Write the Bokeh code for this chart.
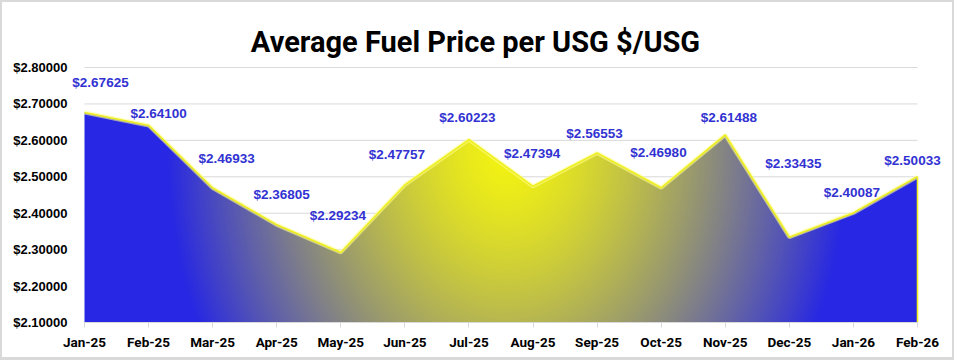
import numpy as np
from bokeh.plotting import figure
from bokeh.models import ColumnDataSource, Range1d, FixedTicker, NumeralTickFormatter, LabelSet, Label
from bokeh.core.properties import value
from bokeh.embed import file_html
from bokeh.resources import INLINE

# ---- data ----
months = ["Jan-25", "Feb-25", "Mar-25", "Apr-25", "May-25", "Jun-25", "Jul-25",
          "Aug-25", "Sep-25", "Oct-25", "Nov-25", "Dec-25", "Jan-26", "Feb-26"]
prices = [2.67625, 2.64100, 2.46933, 2.36805, 2.29234, 2.47757, 2.60223,
          2.47394, 2.56553, 2.46980, 2.61488, 2.33435, 2.40087, 2.50033]
y_ticks = [2.1, 2.2, 2.3, 2.4, 2.5, 2.6, 2.7, 2.8]
title_text = "Average Fuel Price per USG $/USG"

# label placement (pixels right / pixels up) as in the original chart
label_dx = [16, 10, 14, 5, -3, -8, -1.5, -1, -2.6, -2.7, 3.7, 4, -1.5, -5]
label_up = [29.6, 12.4, 29.5, 30.4, 37.4, 30.5, 22, 32.8, 19.4, 35.3, 17.4, 74, 20, 15.7]

x_idx = list(range(len(months)))
labels = ["$%.5f" % v for v in prices]

TITLE_FONT = "Roboto"
SANS = "Liberation Sans"

x0, x1 = x_idx[0], x_idx[-1]
y0, y1 = y_ticks[0], y_ticks[-1]

# plot area of the data: 833 x 255 px; the frame is enlarged so labels/title are not clipped
AREA_W, AREA_H = 833, 255
ppu_x = AREA_W / (x1 - x0)
ppu_y = AREA_H / (y1 - y0)
PAD_L, PAD_R, PAD_T = 14, 28, 57

p = figure(frame_width=AREA_W + PAD_L + PAD_R, frame_height=AREA_H + PAD_T,
           output_backend="svg", toolbar_location=None, title=None,
           x_range=Range1d(x0 - PAD_L / ppu_x, x1 + PAD_R / ppu_x),
           y_range=Range1d(y0, y1 + PAD_T / ppu_y),
           min_border_left=68, min_border_right=7, min_border_top=8, min_border_bottom=35)
p.styles = {"margin": "0px", "box-sizing": "content-box",
            "border-top": "2px solid #d9d9d9", "border-left": "2px solid #d9d9d9",
            "border-right": "2px solid #d9d9d9", "border-bottom": "3px solid #d9d9d9"}

# ---- horizontal grid lines (only across the data area) ----
p.segment(x0=[x0] * len(y_ticks), y0=y_ticks, x1=[x1] * len(y_ticks), y1=y_ticks,
          line_color="#d9d9d9", line_width=1)

# ---- gradient fill under the curve (radial: yellow centre -> blue edge) ----
W, H = AREA_W, AREA_H
xs = x0 + (np.arange(W) + 0.5) / ppu_x
ys_b = y0 + np.arange(H) / ppu_y
X, Y = np.meshgrid(xs, ys_b + 0.5 / ppu_y)
cx, cy = 6.6, 2.572
t = np.sqrt(((X - cx) * ppu_x / 340.0) ** 2 + ((Y - cy) * ppu_y / 420.0) ** 2)
t = np.clip(t, 0, 1) ** 1.35
yellow = np.array([244, 244, 18])
blue = np.array([40, 40, 228])
curve = np.interp(xs, x_idx, prices)
cov = np.clip((curve[None, :] - ys_b[:, None]) * ppu_y, 0, 1)
img = np.zeros((H, W), dtype=np.uint32)
view = img.view(dtype=np.uint8).reshape((H, W, 4))
for k in range(3):
    view[:, :, k] = (yellow[k] + (blue[k] - yellow[k]) * t).astype(np.uint8)
view[:, :, 3] = (cov * 255).astype(np.uint8)
p.image_rgba(image=[img], x=x0, y=y0, dw=x1 - x0, dh=y1 - y0)

# ---- outline ----
p.line(x_idx, prices, line_color="#ffff90", line_width=4, line_alpha=0.6)
p.line(x_idx, prices, line_color="#eeee20", line_width=1.6)
p.segment(x0=[x1], y0=[prices[-1]], x1=[x1], y1=[y0], line_color="#eeee20", line_width=1.6)

# ---- data labels ----
src = ColumnDataSource(dict(x=x_idx, y=prices, text=labels, dx=label_dx, dy=label_up))
p.add_layout(LabelSet(x="x", y="y", text="text", source=src, x_offset="dx", y_offset="dy",
                      text_align="center", text_baseline="middle", text_color="#3232d2",
                      text_font=value(SANS), text_font_style="bold", text_font_size="13.5px"))

# ---- title ----
p.add_layout(Label(x=(x0 + x1) / 2, y=y1, x_offset=-25.5, y_offset=25.7, text=title_text,
                   text_align="center", text_baseline="alphabetic", text_color="#000000",
                   text_font=TITLE_FONT, text_font_style="bold", text_font_size="29px"))

# ---- axes ----
p.xaxis.ticker = FixedTicker(ticks=x_idx)
p.xaxis.bounds = (x0, x1)
p.xaxis.major_label_overrides = {i: m for i, m in zip(x_idx, months)}
p.xaxis.axis_line_color = "#d9d9d9"
p.xaxis.major_tick_line_color = "#d9d9d9"
p.xaxis.major_tick_out = 5
p.xaxis.major_tick_in = 0
p.xaxis.minor_tick_line_color = None
p.xaxis.major_label_standoff = 6
p.xaxis.major_label_text_font = TITLE_FONT
p.xaxis.major_label_text_font_style = "bold"
p.xaxis.major_label_text_font_size = "13.5px"
p.xaxis.major_label_text_color = "#000000"

p.yaxis.ticker = FixedTicker(ticks=y_ticks)
p.yaxis.formatter = NumeralTickFormatter(format="$0.00000")
p.yaxis.axis_line_color = None
p.yaxis.major_tick_line_color = None
p.yaxis.minor_tick_line_color = None
p.yaxis.major_tick_out = 0
p.yaxis.major_label_standoff = 3
p.yaxis.major_label_text_font = SANS
p.yaxis.major_label_text_font_style = "bold"
p.yaxis.major_label_text_font_size = "13px"
p.yaxis.major_label_text_color = "#000000"

p.xgrid.visible = False
p.ygrid.visible = False
p.outline_line_color = None

open("out.html", "w").write(file_html(p, INLINE))
